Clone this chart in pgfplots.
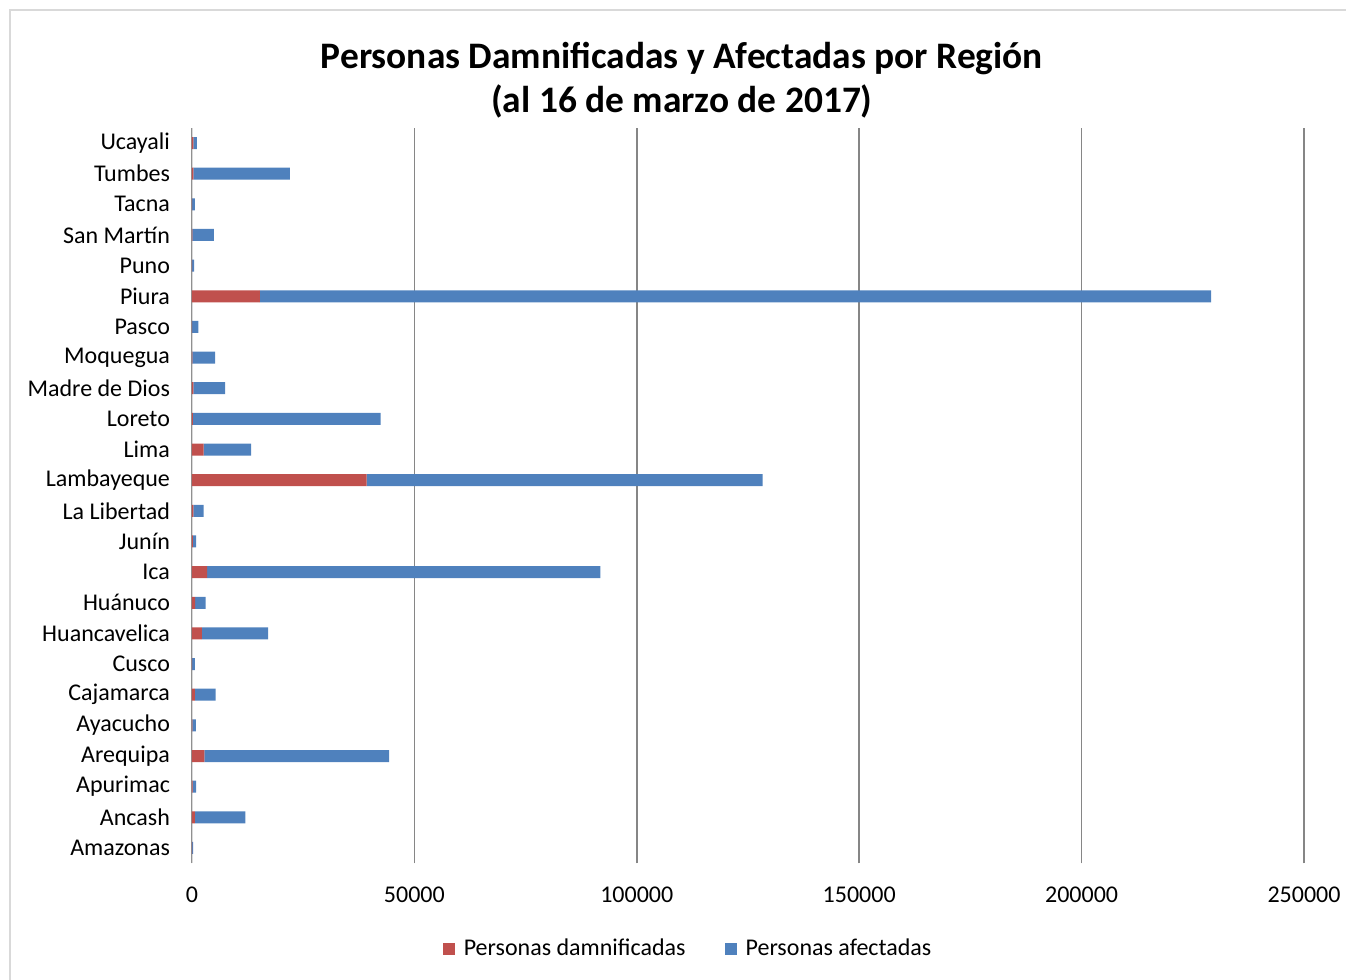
\documentclass[border=0pt]{standalone}
\usepackage{fontspec}
\setmainfont{Carlito}
\usepackage{pgfplots}
\pgfplotsset{compat=1.18}
\definecolor{dam}{HTML}{C0504D}
\definecolor{afe}{HTML}{4F81BD}
\definecolor{gridc}{HTML}{868686}
\definecolor{bordc}{HTML}{D9D9D9}
\begin{document}
\begin{tikzpicture}
\path[use as bounding box] (0pt,0pt) rectangle (673pt,490pt);
\draw[color=bordc, line width=0.75pt] (5pt,0pt) -- (5pt,485pt) -- (673pt,485pt);
\begin{axis}[
  at={(96pt,58.35pt)}, anchor=south west,
  width=556pt, height=367.8pt, scale only axis,
  xmin=0, xmax=250000, ymin=-0.5, ymax=23.5,
  xbar stacked, bar width=6pt,
  axis line style={draw=none},
  major tick length=0pt,
  xtick={0,50000,100000,150000,200000,250000},
  xticklabels={0,50000,100000,150000,200000,250000},
  scaled x ticks=false,
  xmajorgrids, grid style={color=gridc, line width=0.85pt},
  ytick={0,...,23},
  yticklabels={Amazonas,Ancash,Apurimac,Arequipa,Ayacucho,Cajamarca,Cusco,Huancavelica,Huánuco,Ica,Junín,La Libertad,Lambayeque,Lima,Loreto,Madre de Dios,Moquegua,Pasco,Piura,Puno,San Martín,Tacna,{Tumbes\ },Ucayali},
  tick label style={font=\fontsize{12}{14}\selectfont},
  xticklabel style={yshift=-8.5pt},
  yticklabel style={xshift=-7.5pt},
  title={Personas Damnificadas y Afectadas por Región\\(al 16 de marzo de 2017)},
  title style={at={(0.4406,1.0486)}, anchor=center, align=center, font=\fontsize{18.7}{22}\selectfont\bfseries},
  legend style={at={(0.447,-0.1165)}, anchor=center, draw=none, legend columns=2,
    font=\fontsize{12}{14}\selectfont,
    /tikz/every odd column/.append style={column sep=2.5pt},
    /tikz/every even column/.append style={column sep=17.5pt}},
  legend image code/.code={\fill[#1] (0pt,-3pt) rectangle (6pt,3pt);},
]
\addplot[fill=dam, draw=none] coordinates {
(50,0) (630,1) (150,2) (2800,3) (100,4) (630,5) (50,6) (2200,7) (700,8) (3400,9) (200,10) (300,11) (39250,12) (2600,13) (200,14) (300,15) (100,16) (50,17) (15250,18) (30,19) (100,20) (30,21) (300,22) (300,23)};
\addplot[fill=afe, draw=none] coordinates {
(220,0) (11370,1) (790,2) (41500,3) (760,4) (4660,5) (580,6) (14900,7) (2340,8) (88400,9) (740,10) (2300,11) (89050,12) (10670,13) (42200,14) (7170,15) (5100,16) (1410,17) (213850,18) (470,19) (4800,20) (600,21) (21700,22) (800,23)};
\legend{Personas damnificadas, Personas afectadas}
\draw[color=bordc, line width=0.9pt] (rel axis cs:0,0) -- (rel axis cs:0,1);
\end{axis}
\end{tikzpicture}
\end{document}
